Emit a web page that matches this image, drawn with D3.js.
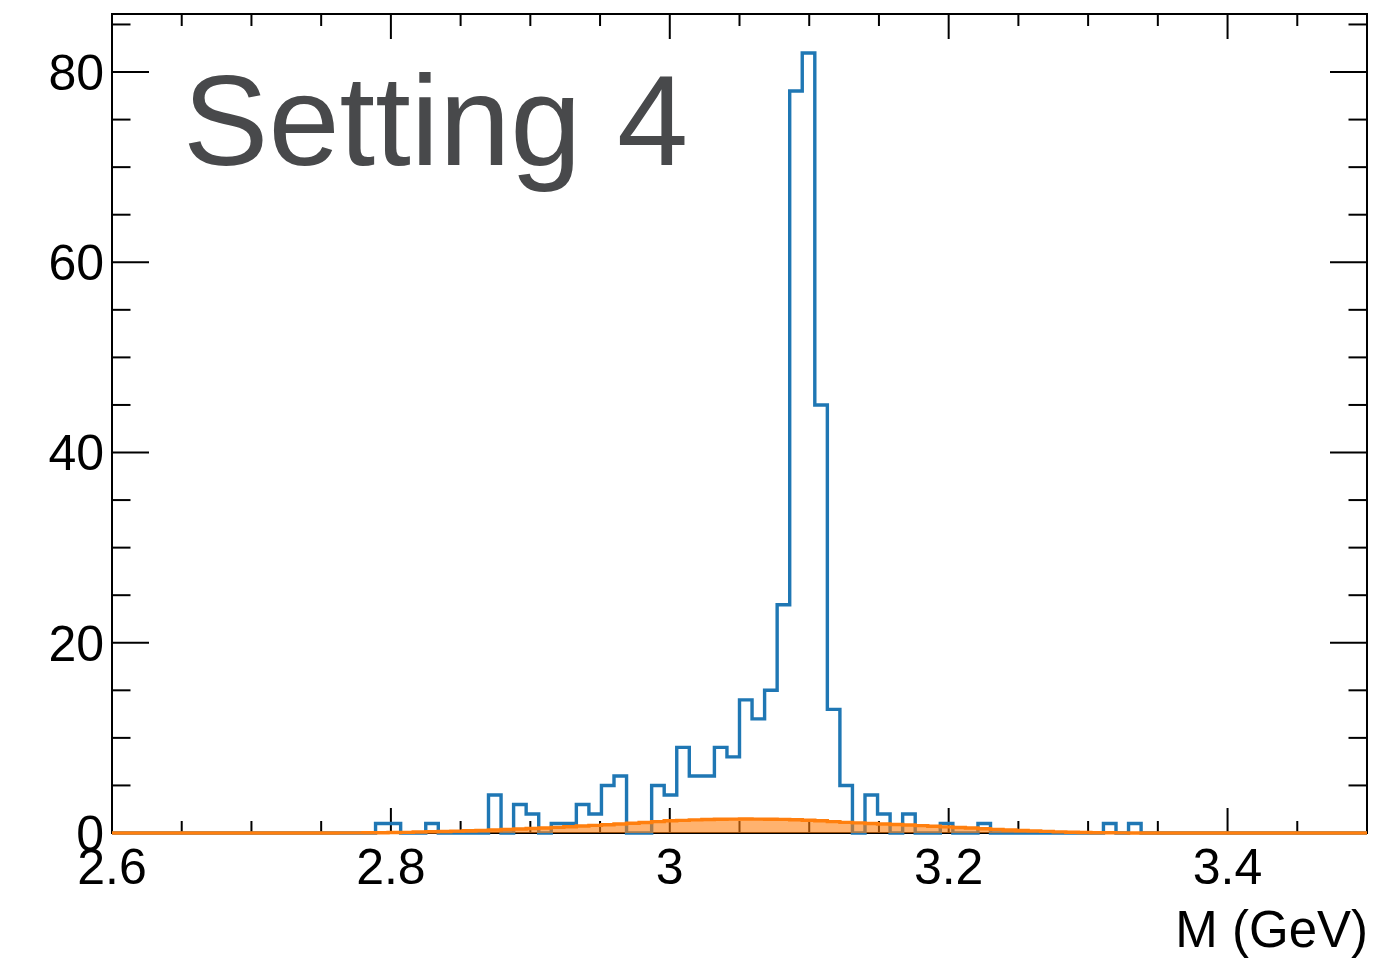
<!DOCTYPE html>
<html>
<head>
<meta charset="utf-8">
<script src="https://cdn.jsdelivr.net/npm/d3@7/dist/d3.min.js"></script>
<style>
  html, body { margin: 0; padding: 0; background: #ffffff; }
  svg { display: block; }
  text { font-family: "Liberation Sans", Arial, Helvetica, sans-serif; }
</style>
</head>
<body>
<svg id="chart" width="1384" height="960"></svg>
<script>
// Binning: 100 equal bins between 2.6 and 3.5 GeV
const xMin = 2.6;
const xMax = 3.5;
const nBins = 100;

// Event counts per bin (data histogram)
const counts = [
  0, 0, 0, 0, 0, 0, 0, 0, 0, 0,
  0, 0, 0, 0, 0, 0, 0, 0, 0, 0,
  0, 1, 1, 0, 0, 1, 0, 0, 0, 0,
  4, 0, 3, 2, 0, 1, 1, 3, 2, 5,
  6, 0, 0, 5, 4, 9, 6, 6, 9, 8,
  14, 12, 15, 24, 78, 82, 45, 13, 5, 0,
  4, 2, 0, 2, 0, 0, 1, 0, 0, 1,
  0, 0, 0, 0, 0, 0, 0, 0, 0, 1,
  0, 1, 0, 0, 0, 0, 0, 0, 0, 0,
  0, 0, 0, 0, 0, 0, 0, 0, 0, 0
];

// Background expectation per bin (filled histogram)
const background = [
  0, 0, 0, 0, 0, 0, 0, 0, 0, 0,
  0, 0, 0, 0, 0, 0, 0, 0, 0.01, 0.01,
  0.02, 0.03, 0.05, 0.07, 0.10, 0.13, 0.16, 0.20, 0.24, 0.28,
  0.32, 0.37, 0.42, 0.47, 0.53, 0.59, 0.66, 0.73, 0.80, 0.87,
  0.95, 1.03, 1.10, 1.20, 1.28, 1.33, 1.38, 1.42, 1.44, 1.46,
  1.47, 1.46, 1.45, 1.43, 1.39, 1.34, 1.28, 1.20, 1.12, 1.06,
  1.00, 0.95, 0.90, 0.84, 0.78, 0.71, 0.64, 0.58, 0.52, 0.45,
  0.38, 0.32, 0.27, 0.22, 0.17, 0.12, 0.08, 0.05, 0.03, 0.02,
  0.01, 0, 0, 0, 0, 0, 0, 0, 0, 0,
  0, 0, 0, 0, 0, 0, 0, 0, 0, 0
];

// Axis ticks and labels
const xMajorTicks = [2.6, 2.8, 3.0, 3.2, 3.4];
const xMinorStep = 0.05;
const yMajorTicks = [0, 20, 40, 60, 80];
const yMinorStep = 5;
const yMax = 86.1;
const xTitle = "M (GeV)";
const panelLabel = "Setting 4";

// Frame geometry
const frame = { left: 112, right: 1367, top: 14, bottom: 833 };

const svg = d3.select("#chart");

const x = d3.scaleLinear().domain([xMin, xMax]).range([frame.left, frame.right]);
const y = d3.scaleLinear().domain([0, yMax]).range([frame.bottom, frame.top]);

const binWidth = (xMax - xMin) / nBins;
const edges = d3.range(nBins + 1).map(i => xMin + i * binWidth);

const fmt = d3.format("~g");

// ---- ticks on all four sides ----
const ticks = svg.append("g").attr("stroke", "#000").attr("stroke-width", 2);

const xMinor = d3.range(Math.round((xMax - xMin) / xMinorStep) + 1)
  .map(i => +(xMin + i * xMinorStep).toFixed(4))
  .filter(v => !xMajorTicks.some(m => Math.abs(m - v) < 1e-6));
const yMinor = d3.range(0, yMax, yMinorStep).filter(v => !yMajorTicks.includes(v));

function xTick(v, len) {
  ticks.append("line").attr("x1", x(v)).attr("x2", x(v))
    .attr("y1", frame.bottom).attr("y2", frame.bottom - len);
  ticks.append("line").attr("x1", x(v)).attr("x2", x(v))
    .attr("y1", frame.top).attr("y2", frame.top + len);
}
function yTick(v, len) {
  ticks.append("line").attr("y1", y(v)).attr("y2", y(v))
    .attr("x1", frame.left).attr("x2", frame.left + len);
  ticks.append("line").attr("y1", y(v)).attr("y2", y(v))
    .attr("x1", frame.right).attr("x2", frame.right - len);
}
xMajorTicks.forEach(v => xTick(v, 25));
xMinor.forEach(v => xTick(v, 12));
yMajorTicks.forEach(v => yTick(v, 37));
yMinor.forEach(v => yTick(v, 18.5));

// ---- frame ----
svg.append("rect")
  .attr("x", frame.left).attr("y", frame.top)
  .attr("width", frame.right - frame.left).attr("height", frame.bottom - frame.top)
  .attr("fill", "none").attr("stroke", "#000").attr("stroke-width", 2);

// ---- tick labels ----
svg.append("g").selectAll("text").data(xMajorTicks).join("text")
  .attr("x", d => x(d)).attr("y", 884)
  .attr("text-anchor", "middle")
  .attr("font-size", 50).attr("fill", "#000")
  .text(d => fmt(d));

svg.append("g").selectAll("text").data(yMajorTicks).join("text")
  .attr("x", 104).attr("y", d => y(d))
  .attr("dy", "0.355em")
  .attr("text-anchor", "end")
  .attr("font-size", 50).attr("fill", "#000")
  .text(d => fmt(d));

svg.append("text")
  .attr("x", frame.right + 1).attr("y", 947)
  .attr("text-anchor", "end")
  .attr("font-size", 51).attr("fill", "#000")
  .text(xTitle);

// ---- histograms ----
svg.append("clipPath").attr("id", "plot-clip")
  .append("rect")
  .attr("x", frame.left - 2).attr("y", frame.top)
  .attr("width", frame.right - frame.left + 4).attr("height", frame.bottom - frame.top + 3);

const plot = svg.append("g").attr("clip-path", "url(#plot-clip)");

function stepPoints(values) {
  const pts = values.map((v, i) => [edges[i], v]);
  pts.push([edges[nBins], values[nBins - 1]]);
  return pts;
}

// data histogram outline
const countPts = [[edges[0], 0], ...stepPoints(counts), [edges[nBins], 0]];
const stepLine = d3.line()
  .x(d => x(d[0])).y(d => y(d[1]))
  .curve(d3.curveStepAfter);

plot.append("path")
  .attr("d", stepLine(countPts))
  .attr("fill", "none")
  .attr("stroke", "#1f77b4")
  .attr("stroke-width", 3.4)
  .attr("stroke-linejoin", "miter");

// background: translucent fill plus outline
const bgPts = stepPoints(background);
const bgArea = d3.area()
  .x(d => x(d[0])).y0(y(0)).y1(d => y(d[1]))
  .curve(d3.curveStepAfter);

plot.append("path")
  .attr("d", bgArea(bgPts))
  .attr("fill", "#ff7f0e")
  .attr("fill-opacity", 0.6)
  .attr("stroke", "none");

plot.append("path")
  .attr("d", stepLine(bgPts))
  .attr("fill", "none")
  .attr("stroke", "#ff7f0e")
  .attr("stroke-width", 3.4);

// ---- panel label ----
svg.append("text")
  .attr("x", 183).attr("y", 165)
  .attr("font-size", 128)
  .attr("fill", "#48494b")
  .text(panelLabel);
</script>
</body>
</html>
